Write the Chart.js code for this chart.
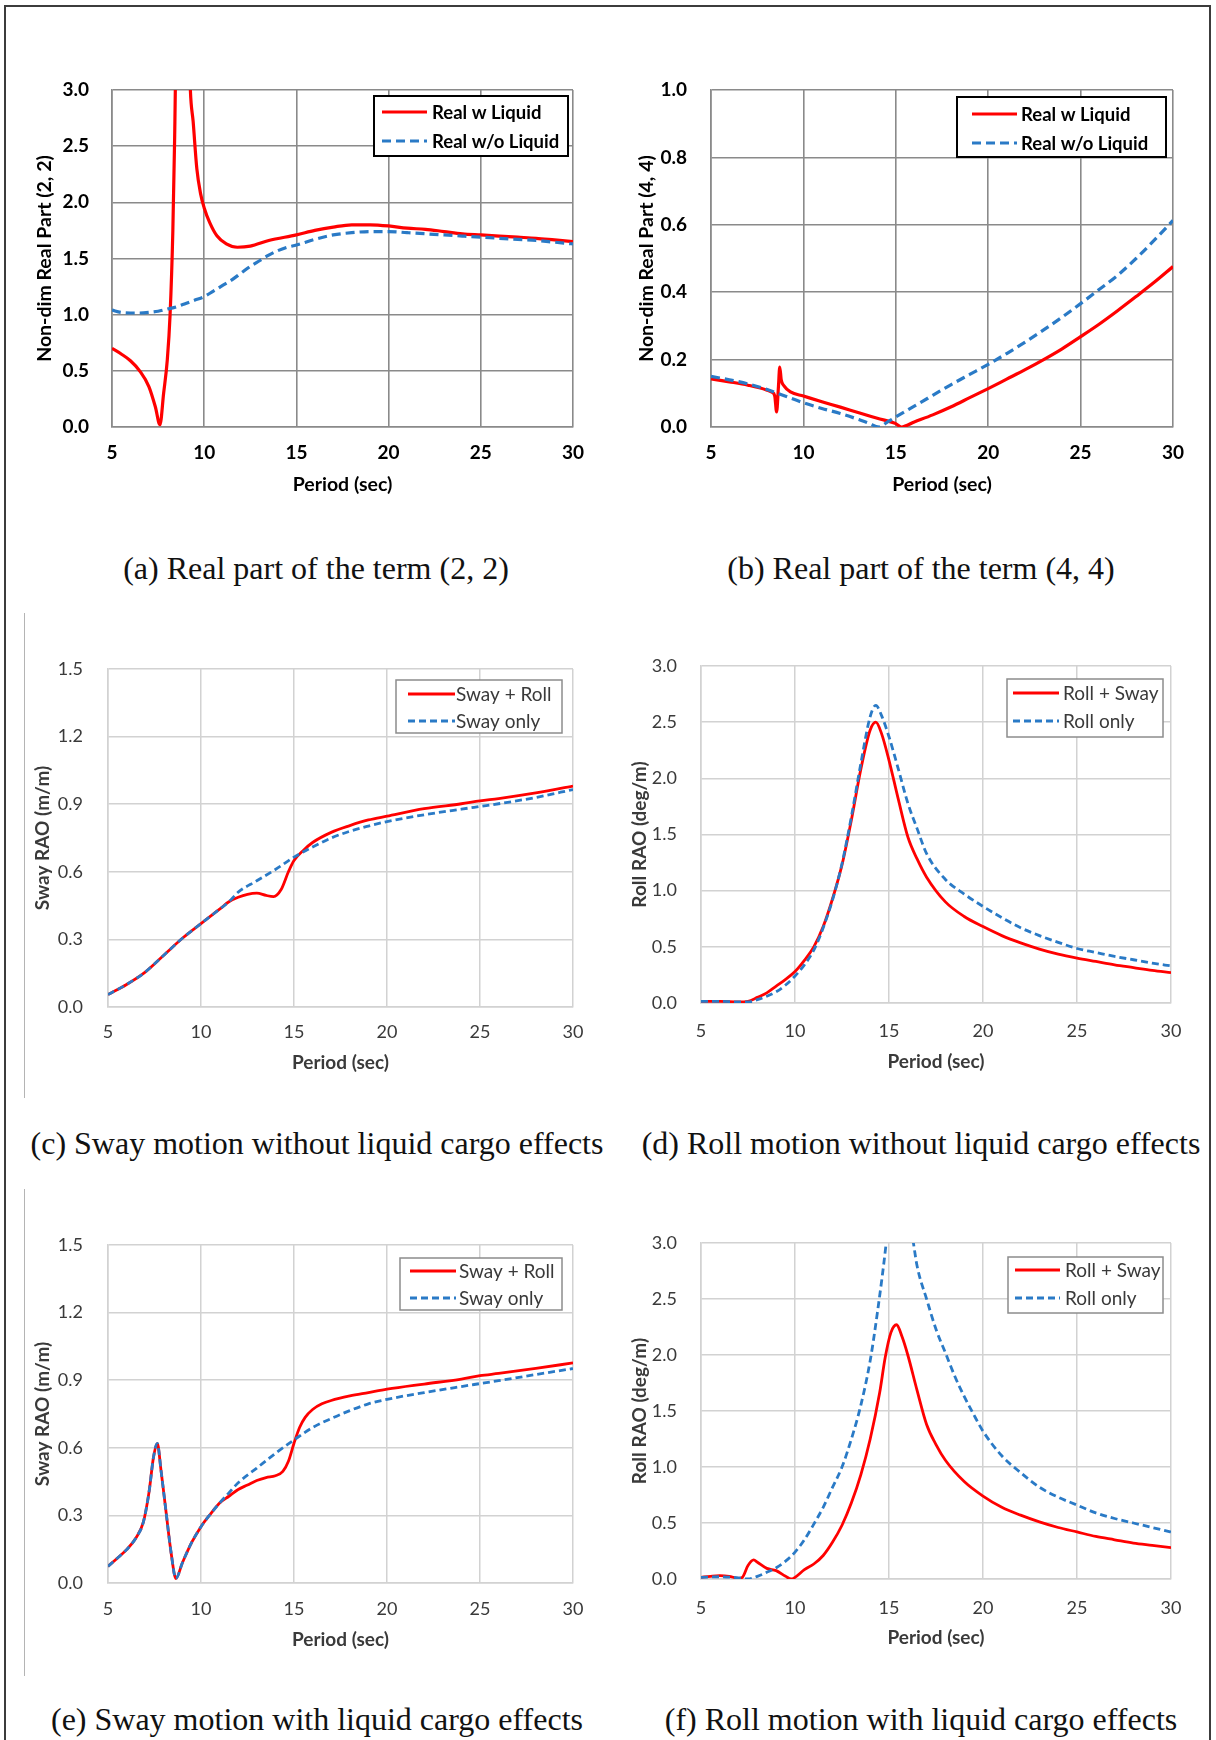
<!DOCTYPE html>
<html>
<head>
<meta charset="utf-8">
<script src="https://cdn.jsdelivr.net/npm/chart.js@4.4.1/dist/chart.umd.min.js"></script>
<style>
  body { margin: 0; background: #fff; width: 1216px; height: 1740px; overflow: hidden; position: relative; }
  .frame { position: absolute; left: 4px; top: 5px; width: 1203px; height: 1800px; border: 2px solid #3c3c3c; }
  .vline { position: absolute; left: 24px; width: 0; border-left: 1.5px solid #b4b4b4; }
  .cap { position: absolute; height: 40px; line-height: 40px; white-space: nowrap; transform: translateX(-50%);
         font-family: "Liberation Serif", "Times New Roman", serif; font-size: 32px; color: #111; }
</style>
</head>
<body>
<div class="frame"></div>
<div class="vline" style="top:613px;height:485px"></div>
<div class="vline" style="top:1189px;height:487px"></div>
<div class="cap" style="left:316px;top:548px">(a) Real part of the term (2, 2)</div>
<div class="cap" style="left:921px;top:548px">(b) Real part of the term (4, 4)</div>
<div class="cap" style="left:317px;top:1123px">(c) Sway motion without liquid cargo effects</div>
<div class="cap" style="left:921px;top:1123px">(d) Roll motion without liquid cargo effects</div>
<div class="cap" style="left:317px;top:1699px">(e) Sway motion with liquid cargo effects</div>
<div class="cap" style="left:921px;top:1699px">(f) Roll motion with liquid cargo effects</div>

<script>
/* global Chart */

// ---------------------- Data ----------------------

// (a) real part of term (2, 2)
const periodRealW22 = [5, 5.5, 6, 6.5, 7, 7.35, 7.6, 7.8, 8.0, 8.15, 8.3, 8.4, 8.5, 9.15, 9.25, 9.4, 9.6, 9.8, 10, 10.3,
  10.7, 11.2, 11.8, 12.5, 13.5, 15, 16, 17, 18, 19, 20, 21, 22, 23, 24, 25, 26, 27, 28, 29, 30];
const realWLiquid22 = [0.70, 0.65, 0.59, 0.50, 0.36, 0.18, 0.02, 0.30, 0.60, 1.00, 1.75, 2.60, 3.60, 3.60, 3.00, 2.72, 2.30, 2.08, 1.95, 1.82,
  1.70, 1.63, 1.60, 1.61, 1.66, 1.71, 1.75, 1.78, 1.80, 1.80, 1.79, 1.77, 1.76, 1.74, 1.72, 1.71, 1.70, 1.69, 1.68, 1.665, 1.65];
const periodRealWo22 = [5, 5.5, 6, 6.5, 7, 7.5, 8, 8.5, 9, 9.5, 10, 10.5, 11, 11.5, 12, 12.5, 13, 13.5, 14, 14.5,
  15, 16, 17, 18, 19, 20, 21, 22, 23, 24, 25, 26, 27, 28, 29, 30];
const realWoLiquid22 = [1.04, 1.02, 1.015, 1.015, 1.02, 1.03, 1.05, 1.07, 1.10, 1.13, 1.16, 1.21, 1.26, 1.31, 1.37, 1.43, 1.48, 1.53, 1.57, 1.60,
  1.62, 1.67, 1.71, 1.73, 1.74, 1.74, 1.73, 1.72, 1.71, 1.70, 1.69, 1.68, 1.67, 1.66, 1.645, 1.63];

// (b) real part of term (4, 4)
const periodRealW44 = [5, 6, 7, 8, 8.3, 8.45, 8.55, 8.65, 8.72, 8.8, 8.95, 9.3, 10, 11, 12, 13, 14, 15, 15.3, 16,
  17, 18, 19, 20, 21, 22, 23, 24, 25, 26, 27, 28, 29, 30];
const realWLiquid44 = [0.143, 0.134, 0.124, 0.11, 0.103, 0.092, 0.045, 0.12, 0.178, 0.14, 0.122, 0.104, 0.092, 0.075, 0.059, 0.042, 0.026, 0.01, 0.0, 0.015,
  0.036, 0.06, 0.087, 0.114, 0.142, 0.17, 0.20, 0.232, 0.268, 0.305, 0.345, 0.387, 0.43, 0.476];
const periodRealWo44 = [5, 6, 7, 8, 9, 10, 11, 12, 13, 13.5, 14.1, 14.5, 15, 16, 17, 18, 19, 20, 21, 22,
  23, 24, 25, 26, 27, 28, 29, 30];
const realWoLiquid44 = [0.150, 0.140, 0.128, 0.112, 0.092, 0.072, 0.055, 0.040, 0.022, 0.012, 0.0, 0.013, 0.03, 0.062, 0.094, 0.126, 0.156, 0.186, 0.218, 0.252,
  0.288, 0.326, 0.366, 0.408, 0.45, 0.50, 0.555, 0.613];

// (c) sway RAO, no liquid cargo
const periodSwayRollC = [5, 6, 7, 8, 9, 10, 11, 11.5, 12, 12.5, 13, 13.5, 13.9, 14.3, 14.7, 15, 15.5, 16, 17, 18,
  19, 20, 22, 24, 25, 26, 28, 30];
const swayRollC = [0.055, 0.10, 0.155, 0.23, 0.305, 0.37, 0.434, 0.467, 0.487, 0.50, 0.505, 0.495, 0.49, 0.52, 0.60, 0.65, 0.695, 0.73, 0.775, 0.805,
  0.83, 0.847, 0.88, 0.902, 0.915, 0.925, 0.95, 0.98];
const periodSwayOnlyC = [5, 6, 7, 8, 9, 10, 11, 11.5, 12, 13, 14, 15, 16, 17, 18, 19, 20, 22, 24, 25, 26, 28, 30];
const swayOnlyC = [0.055, 0.10, 0.155, 0.23, 0.305, 0.37, 0.434, 0.467, 0.51, 0.56, 0.61, 0.665, 0.71, 0.75, 0.78, 0.803, 0.823, 0.853, 0.878, 0.89,
  0.902, 0.93, 0.965];

// (d) roll RAO, no liquid cargo
const periodRollD = [5, 6, 7, 7.5, 8, 8.5, 9, 9.5, 10, 10.5, 11, 11.5, 12, 12.5, 13, 13.5, 14, 14.3, 14.6, 15,
  15.5, 16, 16.5, 17, 18, 19, 20, 21, 22, 23, 24, 25, 26, 27, 28, 29, 30];
const rollSwayD = [0.015, 0.015, 0.01, 0.015, 0.05, 0.09, 0.15, 0.21, 0.28, 0.38, 0.50, 0.68, 0.93, 1.23, 1.63, 2.08, 2.43, 2.50, 2.40, 2.16,
  1.81, 1.48, 1.28, 1.12, 0.90, 0.77, 0.68, 0.60, 0.535, 0.48, 0.435, 0.40, 0.37, 0.34, 0.315, 0.29, 0.27];
const rollOnlyD = [0.015, 0.015, 0.01, 0.01, 0.03, 0.06, 0.10, 0.16, 0.24, 0.34, 0.47, 0.67, 0.92, 1.24, 1.66, 2.13, 2.55, 2.65, 2.56, 2.37,
  2.08, 1.78, 1.55, 1.33, 1.10, 0.97, 0.86, 0.76, 0.67, 0.60, 0.54, 0.485, 0.45, 0.415, 0.385, 0.355, 0.33];

// (e) sway RAO, with liquid cargo
const periodSwayRollE = [5, 5.5, 6, 6.5, 6.9, 7.2, 7.45, 7.65, 7.85, 8.1, 8.4, 8.65, 9, 9.5, 10, 10.5, 11, 11.5, 12, 12.5,
  13, 13.5, 14, 14.4, 14.7, 15, 15.3, 15.6, 16, 16.5, 17, 18, 19, 20, 22, 24, 25, 26, 28, 30];
const swayRollE = [0.074, 0.11, 0.148, 0.20, 0.27, 0.40, 0.56, 0.62, 0.50, 0.33, 0.13, 0.02, 0.09, 0.18, 0.25, 0.305, 0.355, 0.385, 0.415, 0.435,
  0.455, 0.468, 0.476, 0.495, 0.54, 0.62, 0.69, 0.735, 0.77, 0.795, 0.81, 0.83, 0.845, 0.86, 0.883, 0.905, 0.92, 0.93, 0.952, 0.977];
const periodSwayOnlyE = [5, 5.5, 6, 6.5, 6.9, 7.2, 7.45, 7.65, 7.85, 8.1, 8.4, 8.65, 9, 9.5, 10, 10.5, 11, 11.5, 12, 13,
  14, 15, 16, 17, 18, 19, 20, 22, 24, 25, 26, 28, 30];
const swayOnlyE = [0.074, 0.11, 0.148, 0.20, 0.27, 0.40, 0.56, 0.62, 0.50, 0.33, 0.13, 0.02, 0.09, 0.18, 0.25, 0.305, 0.355, 0.40, 0.445, 0.51,
  0.575, 0.635, 0.69, 0.73, 0.765, 0.795, 0.815, 0.845, 0.872, 0.885, 0.898, 0.925, 0.952];

// (f) roll RAO, with liquid cargo
const periodRollSwayF = [5, 5.5, 6, 6.5, 7, 7.2, 7.5, 7.8, 8, 8.5, 9, 9.5, 9.8, 10, 10.5, 11, 11.5, 12, 12.5, 13,
  13.5, 14, 14.5, 14.8, 15.1, 15.4, 15.7, 16, 16.5, 17, 17.5, 18, 19, 20, 21, 22, 23, 24, 25, 26, 27, 28, 29, 30];
const rollSwayF = [0.015, 0.024, 0.03, 0.024, 0.006, 0.015, 0.12, 0.17, 0.15, 0.095, 0.075, 0.024, 0.0, 0.015, 0.083, 0.134, 0.21, 0.33, 0.48, 0.68,
  0.93, 1.25, 1.66, 1.98, 2.20, 2.27, 2.16, 2.00, 1.68, 1.38, 1.20, 1.06, 0.87, 0.74, 0.64, 0.57, 0.51, 0.46, 0.42, 0.38, 0.35, 0.32, 0.30, 0.28];
const periodRollOnlyF = [5, 6, 7, 7.5, 8, 8.5, 9, 9.5, 10, 10.5, 11, 11.5, 12, 12.5, 13, 13.5, 14, 14.4, 14.85, 15.2,
  15.8, 16.3, 16.5, 17, 17.5, 18, 18.5, 19, 19.5, 20, 21, 22, 23, 24, 25, 26, 27, 28, 29, 30];
const rollOnlyF = [0.015, 0.02, 0.01, 0.0, 0.024, 0.06, 0.10, 0.16, 0.24, 0.35, 0.49, 0.64, 0.82, 1.0, 1.25, 1.55, 1.95, 2.4, 3.0, 3.6,
  3.6, 3.0, 2.79, 2.5, 2.23, 2.02, 1.81, 1.63, 1.47, 1.32, 1.10, 0.95, 0.82, 0.73, 0.66, 0.59, 0.54, 0.50, 0.46, 0.42];

const RED = "#ff0000";
const BLUE = "#2a7ac6";

// ---------------------- Styles ----------------------

const STYLES = {
  // panels (a), (b): bold text, dark grid
  bold: {
    tickFont: { family: "Lato", size: 19, weight: "bold" },
    titleFont: { family: "Lato", size: 19.5, weight: "bold" },
    legendFont: "bold 18.5px Lato",
    text: "#000",
    grid: "#8a8a8a", gridW: 1.6,
    lineWidth: 3.2, dash: [9, 5],
    legendBorder: "#000", legendBorderW: 2
  },
  // panels (c)-(f): regular text, light grid
  light: {
    tickFont: { family: "Lato", size: 18, weight: "normal" },
    titleFont: { family: "Lato", size: 19, weight: "bold" },
    legendFont: "19px Lato",
    text: "#3a3a3a",
    grid: "#d2d2d2", gridW: 1.5,
    lineWidth: 2.8, dash: [7, 4],
    legendBorder: "#8c8c8c", legendBorderW: 1.5
  }
};

// Boxed legend drawn inside the plot area (Excel style)
function boxLegend(p, st) {
  return {
    id: "boxLegend",
    afterDatasetsDraw(chart) {
      const { ctx } = chart;
      const ox = p.box.x, oy = p.box.y, L = p.legend;
      ctx.save();
      ctx.fillStyle = "#fff";
      ctx.fillRect(L.x1 - ox, L.y1 - oy, L.x2 - L.x1, L.y2 - L.y1);
      ctx.strokeStyle = st.legendBorder;
      ctx.lineWidth = st.legendBorderW;
      ctx.strokeRect(L.x1 - ox, L.y1 - oy, L.x2 - L.x1, L.y2 - L.y1);
      chart.data.datasets.forEach((ds, i) => {
        const y = L.rows[i] - oy;
        ctx.setLineDash(ds.borderDash || []);
        ctx.strokeStyle = ds.borderColor;
        ctx.lineWidth = ds.borderWidth;
        ctx.beginPath();
        ctx.moveTo(L.lx1 - ox, y);
        ctx.lineTo(L.lx2 - ox, y);
        ctx.stroke();
        ctx.setLineDash([]);
        ctx.fillStyle = st.text;
        ctx.font = st.legendFont;
        ctx.textBaseline = "middle";
        ctx.fillText(ds.label, L.tx - ox, y + 1);
      });
      ctx.restore();
    }
  };
}

function makePanel(p) {
  const st = STYLES[p.style];
  const cv = document.createElement("canvas");
  cv.width = p.box.w;
  cv.height = p.box.h;
  cv.style.cssText = `position:absolute;left:${p.box.x}px;top:${p.box.y}px`;
  document.body.appendChild(cv);

  const yAxisW = p.area.l - p.box.x;
  const xAxisH = p.box.y + p.box.h - p.area.b;
  const half = (f) => f.size * 0.6; // lineHeight 1.2 / 2

  // dashed series is painted over the solid one, as in the original
  const datasets = p.series.map(s => ({
    label: s.label,
    data: s.x.map((x, i) => ({ x, y: s.y[i] })),
    borderColor: s.color,
    backgroundColor: s.color,
    borderWidth: st.lineWidth,
    borderDash: s.dashed ? st.dash : [],
    order: s.dashed ? 0 : 1,
    pointRadius: 0,
    fill: false,
    cubicInterpolationMode: "monotone"
  }));

  new Chart(cv.getContext("2d"), {
    type: "line",
    data: { datasets },
    options: {
      responsive: false,
      animation: false,
      events: [],
      layout: { padding: { top: p.area.t - p.box.y, right: p.box.x + p.box.w - p.area.r, left: 0, bottom: 0 } },
      plugins: { legend: { display: false }, tooltip: { enabled: false } },
      scales: {
        x: {
          type: "linear", min: 5, max: 30,
          ticks: { stepSize: 5, maxRotation: 0, font: st.tickFont, color: st.text,
                   padding: p.xTickY - p.area.b - half(st.tickFont) },
          grid: { color: st.grid, lineWidth: st.gridW, drawTicks: false },
          border: { color: st.grid, width: st.gridW },
          title: { display: true, text: "Period (sec)", font: st.titleFont, color: st.text,
                   padding: { top: 0, bottom: p.box.y + p.box.h - p.xTitleY - half(st.titleFont) } },
          // fixed axis band; label overhang is already covered by layout padding
          afterFit: (scale) => { scale.height = xAxisH; scale.paddingLeft = 0; scale.paddingRight = 0; }
        },
        y: {
          type: "linear", min: 0, max: p.yMax,
          ticks: { stepSize: p.yStep, font: st.tickFont, color: st.text, padding: p.tickGap,
                   callback: (v) => v.toFixed(1) },
          grid: { color: st.grid, lineWidth: st.gridW, drawTicks: false },
          border: { color: st.grid, width: st.gridW },
          title: { display: true, text: p.yTitle, font: st.titleFont, color: st.text,
                   padding: { top: p.yTitleX - p.box.x - half(st.titleFont), bottom: 0 } },
          afterFit: (scale) => { scale.width = yAxisW; scale.paddingTop = 0; scale.paddingBottom = 0; }
        }
      }
    },
    plugins: [boxLegend(p, st)]
  });
}

// ---------------------- Panels ----------------------

const PANELS = [
  {
    style: "bold", yMax: 3, yStep: 0.5, yTitle: "Non-dim Real Part (2, 2)",
    box: { x: 24, y: 60, w: 570, h: 445 }, area: { l: 112, t: 90, r: 573, b: 427 },
    yTitleX: 45, tickGap: 23, xTickY: 453, xTitleY: 485,
    legend: { x1: 374, y1: 96, x2: 568, y2: 156, lx1: 382, lx2: 427, tx: 432, rows: [112, 141] },
    series: [
      { label: "Real w Liquid", x: periodRealW22, y: realWLiquid22, color: RED },
      { label: "Real w/o Liquid", x: periodRealWo22, y: realWoLiquid22, color: BLUE, dashed: true }
    ]
  },
  {
    style: "bold", yMax: 1, yStep: 0.2, yTitle: "Non-dim Real Part (4, 4)",
    box: { x: 610, y: 60, w: 585, h: 445 }, area: { l: 711, t: 90, r: 1173, b: 427 },
    yTitleX: 647, tickGap: 24, xTickY: 453, xTitleY: 485,
    legend: { x1: 957, y1: 97, x2: 1166, y2: 157, lx1: 972, lx2: 1017, tx: 1021, rows: [114, 143] },
    series: [
      { label: "Real w Liquid", x: periodRealW44, y: realWLiquid44, color: RED },
      { label: "Real w/o Liquid", x: periodRealWo44, y: realWoLiquid44, color: BLUE, dashed: true }
    ]
  },
  {
    style: "light", yMax: 1.5, yStep: 0.3, yTitle: "Sway RAO (m/m)",
    box: { x: 26, y: 640, w: 568, h: 445 }, area: { l: 108, t: 669, r: 573, b: 1007 },
    yTitleX: 43, tickGap: 25, xTickY: 1032, xTitleY: 1063,
    legend: { x1: 396, y1: 680, x2: 562, y2: 733, lx1: 408, lx2: 455, tx: 456, rows: [694, 721] },
    series: [
      { label: "Sway + Roll", x: periodSwayRollC, y: swayRollC, color: RED },
      { label: "Sway only", x: periodSwayOnlyC, y: swayOnlyC, color: BLUE, dashed: true }
    ]
  },
  {
    style: "light", yMax: 3, yStep: 0.5, yTitle: "Roll RAO (deg/m)",
    box: { x: 610, y: 640, w: 585, h: 445 }, area: { l: 701, t: 666, r: 1171, b: 1003 },
    yTitleX: 640, tickGap: 24, xTickY: 1031, xTitleY: 1062,
    legend: { x1: 1007, y1: 679, x2: 1163, y2: 737, lx1: 1013, lx2: 1059, tx: 1063, rows: [693, 721] },
    series: [
      { label: "Roll + Sway", x: periodRollD, y: rollSwayD, color: RED },
      { label: "Roll only", x: periodRollD, y: rollOnlyD, color: BLUE, dashed: true }
    ]
  },
  {
    style: "light", yMax: 1.5, yStep: 0.3, yTitle: "Sway RAO (m/m)",
    box: { x: 26, y: 1215, w: 568, h: 450 }, area: { l: 108, t: 1245, r: 573, b: 1583 },
    yTitleX: 43, tickGap: 25, xTickY: 1609, xTitleY: 1640,
    legend: { x1: 400, y1: 1258, x2: 562, y2: 1310, lx1: 410, lx2: 456, tx: 459, rows: [1271, 1298] },
    series: [
      { label: "Sway + Roll", x: periodSwayRollE, y: swayRollE, color: RED },
      { label: "Sway only", x: periodSwayOnlyE, y: swayOnlyE, color: BLUE, dashed: true }
    ]
  },
  {
    style: "light", yMax: 3, yStep: 0.5, yTitle: "Roll RAO (deg/m)",
    box: { x: 610, y: 1215, w: 585, h: 450 }, area: { l: 701, t: 1243, r: 1171, b: 1579 },
    yTitleX: 640, tickGap: 24, xTickY: 1608, xTitleY: 1638,
    legend: { x1: 1008, y1: 1257, x2: 1163, y2: 1313, lx1: 1015, lx2: 1060, tx: 1065, rows: [1270, 1298] },
    series: [
      { label: "Roll + Sway", x: periodRollSwayF, y: rollSwayF, color: RED },
      { label: "Roll only", x: periodRollOnlyF, y: rollOnlyF, color: BLUE, dashed: true }
    ]
  }
];

PANELS.forEach(makePanel);
</script>
</body>
</html>
